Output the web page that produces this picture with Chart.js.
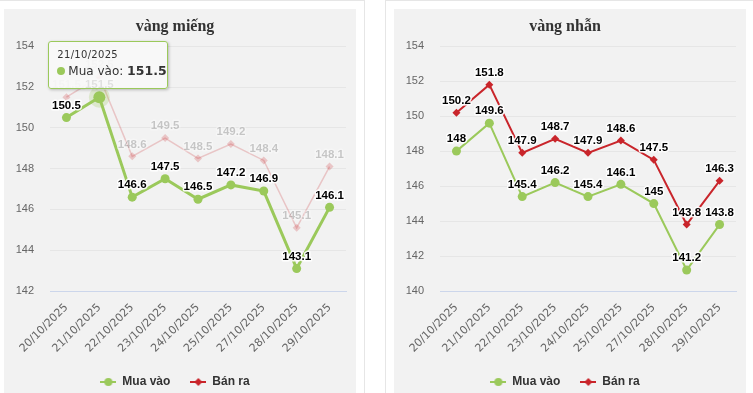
<!DOCTYPE html>
<html>
<head>
<meta charset="utf-8">
<script src="https://cdn.jsdelivr.net/npm/chart.js"></script>
<style>
  body { margin: 0; width: 753px; height: 393px; overflow: hidden; position: relative; background: #fff; }
  .box { position: absolute; top: 0; height: 420px; border: 1px solid #e6e6e6; background: #fff; }
  .panel { position: absolute; top: 9px; width: 352px; height: 400px; background: #f2f2f2; }
  canvas { display: block; }
  .tip {
    position: absolute; box-sizing: border-box; width: 120px; height: 48px;
    border: 1px solid #9bc95b; border-radius: 3px; background: rgba(248,248,248,0.9);
    box-shadow: 1px 1px 3px rgba(0,0,0,0.25); padding: 7px 0 0 8px;
    font-family: "DejaVu Sans", sans-serif; color: #333; pointer-events: none; display: none;
  }
  .tip .t { font-size: 10px; letter-spacing: 0.3px; }
  .tip .b { font-size: 12px; margin-top: 3px; white-space: nowrap; }
  .tip .dot { display: inline-block; width: 8px; height: 8px; border-radius: 50%; background: #9bc95b; margin-right: 3px; }
  .tip b { font-size: 12.5px; }
</style>
</head>
<body>
<div class="box" style="left:-10px;width:373px"></div>
<div class="box" style="left:385px;width:400px"></div>
<div class="panel" style="left:4px"><canvas id="mieng" width="352" height="389"></canvas><div class="tip" id="tipMieng"></div></div>
<div class="panel" style="left:394px"><canvas id="nhan" width="352" height="389"></canvas></div>
<script>
// dates on the x axis
const dates = ['20/10/2025', '21/10/2025', '22/10/2025', '23/10/2025', '24/10/2025',
               '25/10/2025', '27/10/2025', '28/10/2025', '29/10/2025'];

// vàng miếng (triệu đồng / lượng)
const miengMua = [150.5, 151.5, 146.6, 147.5, 146.5, 147.2, 146.9, 143.1, 146.1];
const miengBan = [151.5, 152.5, 148.6, 149.5, 148.5, 149.2, 148.4, 145.1, 148.1];

// vàng nhẫn
const nhanMua = [148, 149.6, 145.4, 146.2, 145.4, 146.1, 145, 141.2, 143.8];
const nhanBan = [150.2, 151.8, 147.9, 148.7, 147.9, 148.6, 147.5, 143.8, 146.3];

// y axis ranges
const miengRange = [142, 154];
const nhanRange = [140, 154];

const GREEN = '#9bc95b';
const RED = '#c9252b';

// small line + marker used as legend symbol
function legendSymbol(color, shape) {
  const c = document.createElement('canvas');
  c.width = 16; c.height = 10;
  const g = c.getContext('2d');
  g.strokeStyle = color; g.lineWidth = 2;
  g.beginPath(); g.moveTo(0, 5); g.lineTo(16, 5); g.stroke();
  g.fillStyle = color; g.beginPath();
  if (shape === 'circle') {
    g.arc(8, 5, 4, 0, Math.PI * 2);
  } else {
    g.moveTo(8, 1); g.lineTo(12, 5); g.lineTo(8, 9); g.lineTo(4, 5); g.closePath();
  }
  g.fill();
  return c;
}

// value labels above each point
const pointLabels = {
  id: 'pointLabels',
  afterDatasetsDraw(chart) {
    const ctx = chart.ctx;
    ctx.save();
    ctx.font = 'bold 11.5px "Liberation Sans"';
    ctx.textAlign = 'center';
    ctx.textBaseline = 'middle';
    ctx.lineJoin = 'round';
    chart.data.datasets.forEach((ds, i) => {
      const meta = chart.getDatasetMeta(i);
      meta.data.forEach((pt, j) => {
        const txt = String(ds.data[j]);
        ctx.lineWidth = 3;
        ctx.strokeStyle = ds.labelOutline || 'rgba(255,255,255,0.9)';
        ctx.strokeText(txt, pt.x, pt.y - 12);
        ctx.fillStyle = ds.labelColor || '#000';
        ctx.fillText(txt, pt.x, pt.y - 12);
      });
    });
    ctx.restore();
  }
};

// html tooltip, placed next to the active point
function htmlTooltip(tipId) {
  return function(context) {
    const tip = document.getElementById(tipId);
    const t = context.tooltip;
    if (!t.opacity || !t.dataPoints || !t.dataPoints.length) { tip.style.display = 'none'; return; }
    const dp = t.dataPoints[0];
    tip.innerHTML = '<div class="t">' + dp.label + '</div>' +
      '<div class="b"><span class="dot"></span>' + dp.dataset.label + ': <b>' + dp.formattedValue + '</b></div>';
    tip.style.display = 'block';
    tip.style.left = (t.caretX - 51) + 'px';
    tip.style.top = (t.caretY - 56) + 'px';
  };
}

function makeChart(id, title, mua, ban, range, faded, tipId) {
  const ctx = document.getElementById(id).getContext('2d');
  const banColor = faded ? 'rgba(201,37,43,0.22)' : RED;
  return new Chart(ctx, {
    type: 'line',
    data: {
      labels: dates,
      datasets: [{
        label: 'Mua vào',
        data: mua,
        borderColor: GREEN,
        backgroundColor: GREEN,
        borderWidth: faded ? 3 : 2,
        pointStyle: 'circle',
        pointRadius: 4.5,
        pointBorderWidth: 0,
        pointHoverRadius: 6,
        pointHoverBorderWidth: 9,
        pointHoverBorderColor: 'rgba(155,201,91,0.25)',
        pointHoverBackgroundColor: GREEN,
        tension: 0,
        legendSymbol: legendSymbol(GREEN, 'circle')
      }, {
        label: 'Bán ra',
        data: ban,
        borderColor: banColor,
        backgroundColor: banColor,
        borderWidth: faded ? 1.5 : 2,
        pointStyle: 'rectRot',
        pointRadius: 4,
        pointBorderWidth: 0,
        tension: 0,
        labelColor: faded ? 'rgba(0,0,0,0.2)' : '#000',
        labelOutline: faded ? 'rgba(255,255,255,0.3)' : 'rgba(255,255,255,0.9)',
        legendSymbol: legendSymbol(RED, 'diamond')
      }]
    },
    options: {
      responsive: false,
      animation: false,
      events: [],
      layout: { padding: { left: 0, right: 10, top: 0, bottom: 0 } },
      scales: {
        x: {
          offset: true,
          grid: { display: false, drawTicks: false },
          border: { display: true, color: '#ccd6eb', width: 1 },
          ticks: {
            color: '#666',
            font: { family: 'DejaVu Sans', size: 11 },
            minRotation: 45, maxRotation: 45,
            padding: 10,
            autoSkip: false
          },
          afterFit: s => { s.height = 65; }
        },
        y: {
          min: range[0], max: range[1],
          grid: { color: '#e6e6e6', drawTicks: false },
          border: { display: false },
          ticks: {
            stepSize: 2,
            color: '#666',
            font: { family: 'Liberation Sans', size: 11 },
            padding: 16
          },
          afterFit: s => { s.width = 46; }
        }
      },
      plugins: {
        title: {
          display: true,
          text: title,
          color: '#333',
          font: { family: 'Liberation Serif', size: 16, weight: 'bold' },
          padding: { top: 8, bottom: 10 }
        },
        legend: {
          position: 'bottom',
          labels: {
            usePointStyle: true,
            pointStyleWidth: 16,
            padding: 20,
            color: '#333',
            font: { family: 'Liberation Sans', size: 12, weight: 'bold' },
            generateLabels: chart => chart.data.datasets.map((ds, i) => ({
              text: ds.label,
              pointStyle: ds.legendSymbol,
              fontColor: '#333',
              hidden: false,
              datasetIndex: i,
              lineWidth: 0,
              strokeStyle: 'transparent',
              fillStyle: 'transparent'
            }))
          }
        },
        tooltip: tipId ? { enabled: false, external: htmlTooltip(tipId) } : { enabled: false }
      }
    },
    plugins: [pointLabels]
  });
}

const chartMieng = makeChart('mieng', 'vàng miếng', miengMua, miengBan, miengRange, true, 'tipMieng');
const chartNhan = makeChart('nhan', 'vàng nhẫn', nhanMua, nhanBan, nhanRange, false, null);

// hovered point on 21/10 (Mua vào) in the left chart
const active = [{ datasetIndex: 0, index: 1 }];
chartMieng.tooltip.setActiveElements(active, { x: 0, y: 0 });
chartMieng.setActiveElements(active);
chartMieng.update();
</script>
</body>
</html>
